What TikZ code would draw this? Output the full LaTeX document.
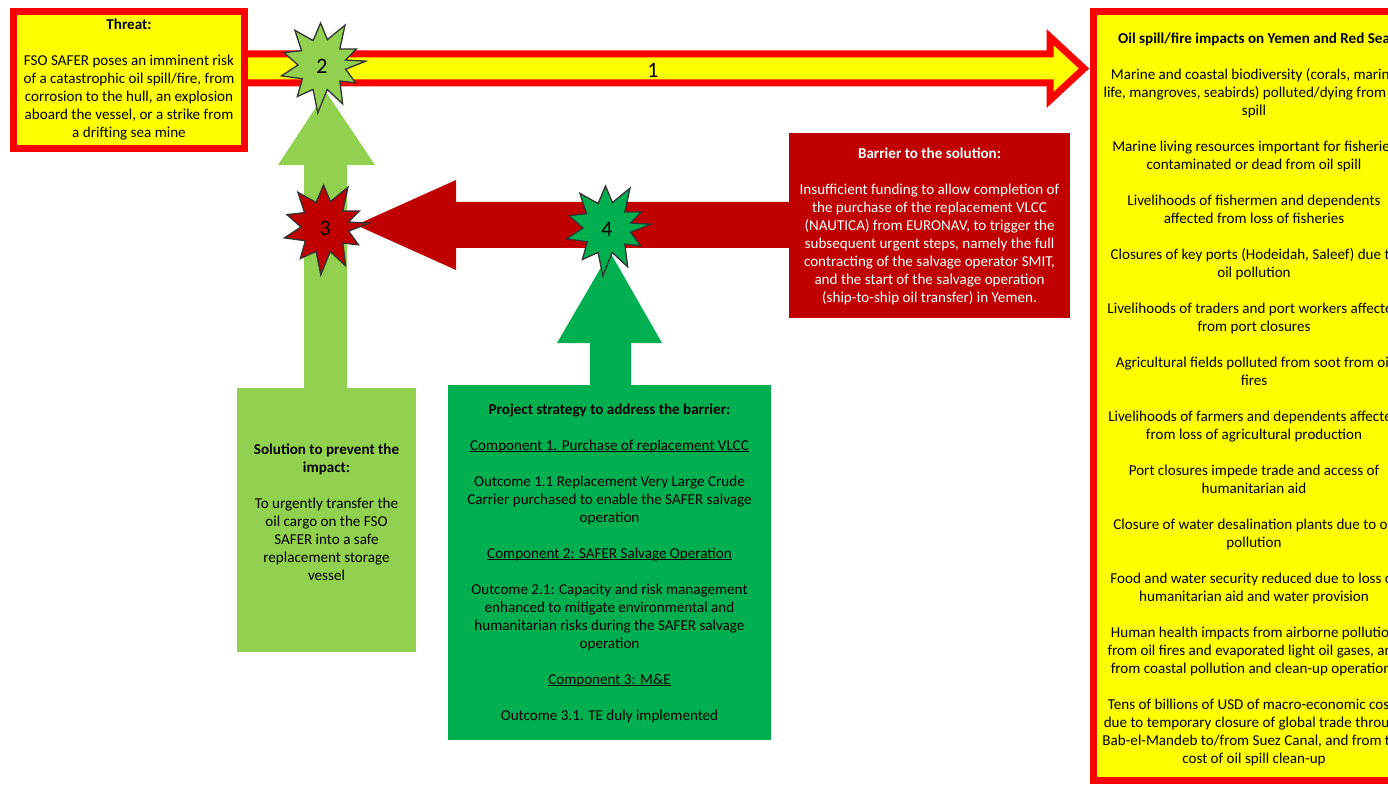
\documentclass[tikz,border=0pt]{standalone}
\usepackage{fontspec}
\setmainfont{Carlito}
\usetikzlibrary{calc}
\definecolor{ylw}{HTML}{FFFF00}
\definecolor{rd}{HTML}{FF0000}
\definecolor{dred}{HTML}{C00000}
\definecolor{lgreen}{HTML}{92D050}
\definecolor{dgreen}{HTML}{00B050}
\newsavebox\ulinebox
\newcommand\ulbar[1]{\sbox\ulinebox{#1}\rlap{\rule[-2.2pt]{\wd\ulinebox}{0.9pt}}\usebox\ulinebox}
\tikzset{
  txt/.style={align=center, font=\fontsize{15.1}{18}\selectfont, inner sep=0pt},
  redbox/.style={rectangle, draw=rd, line width=7pt, fill=ylw, inner sep=0pt},
  flatbox/.style={rectangle, inner sep=0pt},
  burstline/.style={draw=black!80, line width=1.3pt, line join=miter},
  burstnum/.style={font=\fontsize{22}{24}\selectfont, inner sep=0pt},
  burst/.pic={
    \path[pic actions, burstline] (-5:44) -- (10:24) -- (28:38) -- (42:24) -- (62:44) -- (78:25)
      -- (95:48) -- (110:26) -- (128:40) -- (145:24) -- (165:42) -- (180:24) -- (198:40)
      -- (215:25) -- (232:44) -- (250:26) -- (268:42) -- (282:26) -- (300:46) -- (318:24)
      -- (335:38) -- (348:24) -- cycle;
  }
}
\begin{document}
\begin{tikzpicture}[x=1pt,y=-1pt]
\useasboundingbox (0,0) rectangle (1388,786);
\clip (0,0) rectangle (1388,786);

% ---- block arrows ----
% arrow 1: threat -> impacts
\draw[rd, line width=7pt, fill=ylw, line join=miter]
  (240,54) -- (1050,54) -- (1050,37) -- (1084,68.5) -- (1050,100) -- (1050,83) -- (240,83) -- cycle;
% solution -> threat (light green, up)
\fill[lgreen] (304,390) -- (304,165) -- (278,165) -- (326,92) -- (375,165) -- (347,165) -- (347,390) -- cycle;
% barrier -> solution (dark red, left)
\fill[dred] (792,202) -- (456,202) -- (456,180) -- (356,225) -- (456,270) -- (456,248) -- (792,248) -- cycle;
% strategy -> barrier (green, up)
\fill[dgreen] (590,387) -- (590,343) -- (557,343) -- (610,252) -- (662,343) -- (631,343) -- (631,387) -- cycle;

% ---- boxes ----
\node[redbox, minimum width=231pt, minimum height=137pt] (threat) at (129,80) {};
\node[txt] (threattxt) at (129,80) {\textbf{Threat:}\\[18pt]
  FSO SAFER poses an imminent risk\\
  of a catastrophic oil spill/fire, from\\
  corrosion to the hull, an explosion\\
  aboard the vessel, or a strike from\\
  a drifting sea mine};

\node[redbox, minimum width=319pt, minimum height=769pt] (impact) at (1253,396) {};
\node[txt] (impacttxt) at (1254,399) {\textbf{Oil spill/fire impacts on Yemen and Red Sea}\\[18pt]
  Marine and coastal biodiversity (corals, marine\\
  life, mangroves, seabirds) polluted/dying from oil\\
  spill\\[18pt]
  Marine living resources important for fisheries\\
  contaminated or dead from oil spill\\[18pt]
  Livelihoods of fishermen and dependents\\
  affected from loss of fisheries\\[18pt]
  Closures of key ports (Hodeidah, Saleef) due to\\
  oil pollution\\[18pt]
  Livelihoods of traders and port workers affected\\
  from port closures\\[18pt]
  Agricultural fields polluted from soot from oil\\
  fires\\[18pt]
  Livelihoods of farmers and dependents affected\\
  from loss of agricultural production\\[18pt]
  Port closures impede trade and access of\\
  humanitarian aid\\[18pt]
  Closure of water desalination plants due to oil\\
  pollution\\[18pt]
  Food and water security reduced due to loss of\\
  humanitarian aid and water provision\\[18pt]
  Human health impacts from airborne pollution\\
  from oil fires and evaporated light oil gases, and\\
  from coastal pollution and clean-up operations\\[18pt]
  Tens of billions of USD of macro-economic costs\\
  due to temporary closure of global trade through\\
  Bab-el-Mandeb to/from Suez Canal, and from the\\
  cost of oil spill clean-up};

\node[flatbox, fill=dred, minimum width=281pt, minimum height=185pt] (barrier) at (929.5,225.5) {};
\node[txt, text=white] (barriertxt) at (929.5,226) {\textbf{Barrier to the solution:}\\[18pt]
  Insufficient funding to allow completion of\\
  the purchase of the replacement VLCC\\
  (NAUTICA) from EURONAV, to trigger the\\
  subsequent urgent steps, namely the full\\
  contracting of the salvage operator SMIT,\\
  and the start of the salvage operation\\
  (ship-to-ship oil transfer) in Yemen.};

\node[flatbox, fill=lgreen, minimum width=179pt, minimum height=264pt] (solution) at (326.5,520) {};
\node[txt] (solutiontxt) at (326.5,512) {\textbf{Solution to prevent the}\\
  \textbf{impact:}\\[18pt]
  To urgently transfer the\\
  oil cargo on the FSO\\
  SAFER into a safe\\
  replacement storage\\
  vessel};

\node[flatbox, fill=dgreen, minimum width=323pt, minimum height=355pt] (strategy) at (609.5,562.5) {};
\node[txt] (strategytxt) at (609.5,563) {\textbf{Project strategy to address the barrier:}\\[18pt]
  \ulbar{Component 1. Purchase of replacement VLCC}\\[18pt]
  Outcome 1.1 Replacement Very Large Crude\\
  Carrier purchased to enable the SAFER salvage\\
  operation\\[18pt]
  \ulbar{Component 2: SAFER Salvage Operation}\\[18pt]
  Outcome 2.1: Capacity and risk management\\
  enhanced to mitigate environmental and\\
  humanitarian risks during the SAFER salvage\\
  operation\\[18pt]
  \ulbar{Component 3: M\&E}\\[18pt]
  Outcome 3.1. TE duly implemented};

% ---- labels and bursts ----
\node[burstnum] (n1) at (653,70) {1};
\pic[fill=lgreen] at (322,65) {burst};
\node[burstnum] (n2) at (322,66) {2};
\pic[fill=dred] at (325,227) {burst};
\node[burstnum] (n3) at (325,228) {3};
\pic[fill=dgreen] at (607,228) {burst};
\node[burstnum] (n4) at (607,229) {4};
\end{tikzpicture}
\end{document}
